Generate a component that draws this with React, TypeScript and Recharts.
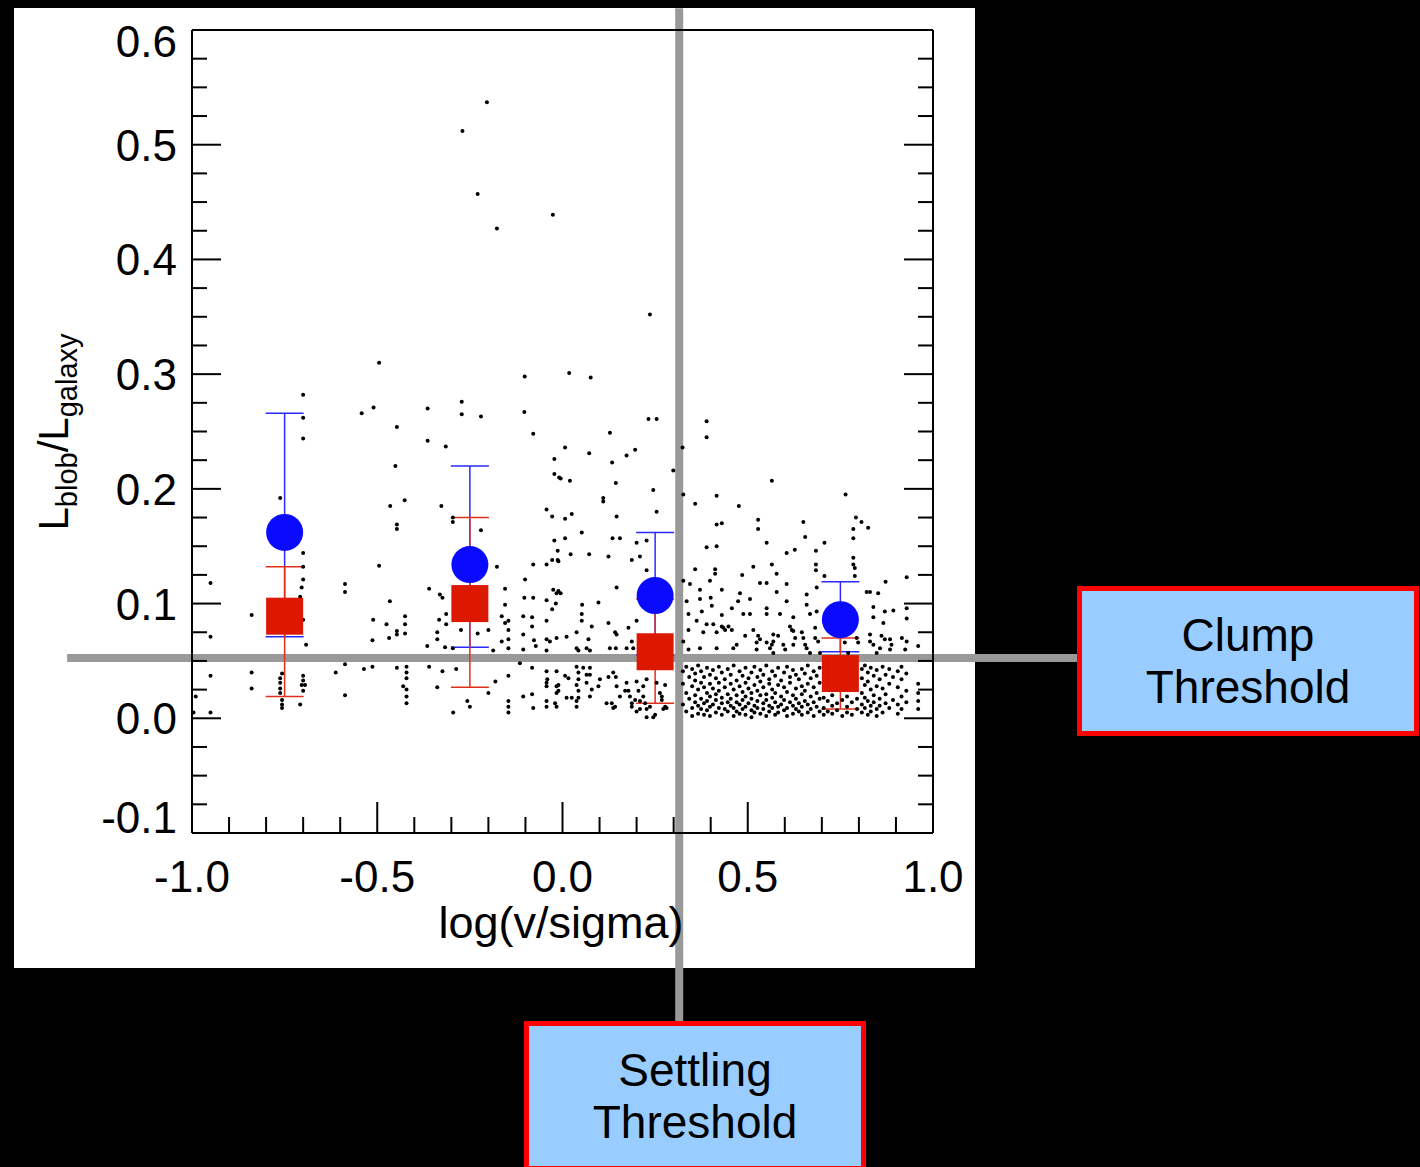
import React from 'react'
import { ScatterChart, Scatter, XAxis, YAxis, ErrorBar, ReferenceLine } from 'recharts'

// axis ticks (IDL style: minor every 0.1 on x, every 0.025 on y)
const xMajor = [-1.0, -0.5, 0.0, 0.5, 1.0]
const xMajorLabels = ['-1.0', '-0.5', '0.0', '0.5', '1.0']
const xMinor = [-0.9, -0.8, -0.7, -0.6, -0.4, -0.3, -0.2, -0.1, 0.1, 0.2, 0.3, 0.4, 0.6, 0.7, 0.8, 0.9]
const yMajor = [-0.1, 0.0, 0.1, 0.2, 0.3, 0.4, 0.5, 0.6]
const yMajorLabels = ['-0.1', '0.0', '0.1', '0.2', '0.3', '0.4', '0.5', '0.6']
const yMinor = [
  -0.075, -0.05, -0.025, 0.025, 0.05, 0.075, 0.125, 0.15, 0.175, 0.225, 0.25, 0.275,
  0.325, 0.35, 0.375, 0.425, 0.45, 0.475, 0.525, 0.55, 0.575,
]

// binned means
const binX = [-0.75, -0.25, 0.25, 0.75]
const blobMean = [0.162, 0.134, 0.107, 0.086]
const blobHi = [0.266, 0.22, 0.162, 0.119]
const blobLo = [0.071, 0.062, 0.055, 0.058]
const clumpMean = [0.089, 0.1, 0.058, 0.039]
const clumpHi = [0.132, 0.175, 0.104, 0.07]
const clumpLo = [0.019, 0.027, 0.013, 0.008]

// thresholds (annotation lines)
const clumpThreshold = 0.0525
const settlingThreshold = 0.315

// individual galaxies
const dotsUpper: [number, number][] = [
  [-0.204, 0.537], [-0.27, 0.512], [-0.229, 0.457], [-0.026, 0.439], [-0.177, 0.427], [-0.495, 0.31],
  [-0.102, 0.298], [-0.7, 0.282], [0.236, 0.352], [0.018, 0.301], [0.076, 0.297],
  [-0.51, 0.271], [-0.542, 0.266], [-0.364, 0.27], [-0.7, 0.262], [-0.447, 0.254], [-0.7, 0.244],
  [-0.364, 0.242], [-0.451, 0.22], [-0.272, 0.276], [-0.272, 0.265], [-0.22, 0.263], [-0.103, 0.267],
  [-0.079, 0.248], [-0.315, 0.237], [-0.022, 0.226], [-0.022, 0.213], [-0.009, 0.21],
  [0.232, 0.261], [0.254, 0.261], [0.128, 0.249], [0.007, 0.236], [0.072, 0.231], [0.196, 0.234],
  [0.173, 0.229], [0.134, 0.223], [0.299, 0.216], [-0.005, 0.209], [0.02, 0.207], [0.144, 0.205],
  [0.389, 0.259], [0.389, 0.245], [0.324, 0.236], [0.565, 0.207],
]

const dotsMiddle: [number, number][] = [
  [-0.762, 0.192], [-0.426, 0.19], [-0.465, 0.185], [-0.327, 0.185], [-0.447, 0.169], [-0.447, 0.165],
  [-0.296, 0.175], [-0.296, 0.171], [-0.22, 0.164], [-0.043, 0.182], [-0.028, 0.176], [-0.022, 0.155],
  [-0.013, 0.146], [-0.028, 0.138], [-0.013, 0.138], [-0.079, 0.134], [-0.043, 0.134], [-0.177, 0.132],
  [-0.7, 0.144], [-0.7, 0.132], [-0.7, 0.121], [-0.704, 0.114], [-0.708, 0.106], [-0.495, 0.133],
  [-0.95, 0.118], [-0.587, 0.117], [-0.587, 0.11], [-0.466, 0.102], [-0.36, 0.113], [-0.331, 0.108],
  [-0.324, 0.105], [-0.101, 0.121], [-0.103, 0.105], [-0.079, 0.105], [-0.155, 0.113], [-0.155, 0.099],
  [-0.043, 0.103], [-0.025, 0.112], [-0.016, 0.109], [-0.018, 0.1],
  [0.326, 0.195], [0.416, 0.194], [0.358, 0.187], [0.476, 0.185], [0.764, 0.195], [0.245, 0.199],
  [0.11, 0.192], [0.11, 0.189], [0.007, 0.174], [0.025, 0.178], [0.146, 0.176], [0.254, 0.18],
  [0.052, 0.162], [0.007, 0.157], [0.135, 0.157], [0.155, 0.157], [0.2, 0.153], [0.227, 0.155],
  [0.022, 0.143], [0.072, 0.143], [0.124, 0.141], [0.187, 0.138], [0.209, 0.141], [-0.011, 0.137],
  [0.227, 0.129], [-0.011, 0.111], [-0.005, 0.109], [0.146, 0.114], [0.097, 0.101], [0.053, 0.099],
  [0.528, 0.173], [0.528, 0.165], [0.416, 0.169], [0.43, 0.17], [0.65, 0.171], [0.792, 0.175],
  [0.807, 0.171], [0.825, 0.166], [0.785, 0.165], [0.785, 0.157], [0.389, 0.149], [0.416, 0.15],
  [0.551, 0.153], [0.605, 0.144], [0.627, 0.147], [0.655, 0.158], [0.707, 0.153], [0.684, 0.146],
  [0.785, 0.14], [0.785, 0.134], [0.358, 0.13], [0.412, 0.13], [0.412, 0.126], [0.515, 0.132],
  [0.565, 0.134], [0.578, 0.126], [0.485, 0.125], [0.684, 0.134], [0.684, 0.129], [0.707, 0.124],
  [0.789, 0.124], [0.789, 0.131], [0.872, 0.119], [0.929, 0.123], [0.326, 0.12], [0.344, 0.117],
  [0.371, 0.112], [0.398, 0.12], [0.43, 0.112], [0.479, 0.109], [0.506, 0.104], [0.533, 0.118],
  [0.551, 0.118], [0.578, 0.11], [0.605, 0.117], [0.605, 0.102], [0.659, 0.108], [0.686, 0.114],
  [0.821, 0.11], [0.83, 0.11], [0.852, 0.109], [0.371, 0.104], [0.4, 0.105],
]

const dotsLow: [number, number][] = [
  [-0.839, 0.09], [-0.95, 0.071], [-0.511, 0.086], [-0.475, 0.082], [-0.425, 0.089], [-0.425, 0.082],
  [-0.447, 0.076], [-0.447, 0.073], [-0.425, 0.074], [-0.513, 0.068], [-0.468, 0.07], [-0.365, 0.063],
  [-0.333, 0.086], [-0.314, 0.091], [-0.314, 0.082], [-0.338, 0.075], [-0.338, 0.069], [-0.317, 0.062],
  [-0.296, 0.061], [-0.274, 0.077], [-0.229, 0.074], [-0.2, 0.077], [-0.187, 0.059], [-0.164, 0.067],
  [-0.164, 0.089], [-0.146, 0.085], [-0.146, 0.077], [-0.146, 0.069], [-0.146, 0.061], [-0.106, 0.089],
  [-0.106, 0.073], [-0.082, 0.088], [-0.082, 0.08], [-0.077, 0.068], [-0.072, 0.063], [-0.043, 0.085],
  [-0.043, 0.069], [-0.016, 0.07], [-0.043, 0.059], [-0.692, 0.064], [-0.7, 0.086], [-0.587, 0.047],
  [-0.028, 0.095], [-0.155, 0.083], [-0.034, 0.067], [-0.106, 0.06],
  [0.052, 0.091], [0.079, 0.08], [0.052, 0.085], [0.124, 0.083], [0.2, 0.085], [0.146, 0.073],
  [0.011, 0.071], [0.038, 0.061], [0.043, 0.059], [0.065, 0.061], [0.074, 0.059], [0.128, 0.061],
  [0.144, 0.061], [0.173, 0.061], [0.191, 0.061], [0.038, 0.075], [0.07, 0.069], [0.142, 0.075],
  [0.178, 0.079], [0.187, 0.067],
  [0.403, 0.098], [0.376, 0.093], [0.335, 0.102], [0.34, 0.091], [0.457, 0.096], [0.474, 0.102],
  [0.488, 0.091], [0.506, 0.091], [0.551, 0.096], [0.551, 0.091], [0.587, 0.091], [0.623, 0.088],
  [0.659, 0.099], [0.668, 0.091], [0.686, 0.093], [0.839, 0.097], [0.87, 0.093], [0.893, 0.094],
  [0.929, 0.096], [0.929, 0.087], [0.839, 0.088], [0.866, 0.083],
  [0.34, 0.077], [0.362, 0.085], [0.38, 0.075], [0.407, 0.082], [0.434, 0.079], [0.457, 0.077],
  [0.493, 0.072], [0.515, 0.077], [0.533, 0.069], [0.569, 0.073], [0.569, 0.067], [0.596, 0.064],
  [0.623, 0.076], [0.623, 0.064], [0.65, 0.07], [0.659, 0.061], [0.682, 0.079], [0.682, 0.07],
  [0.794, 0.07], [0.83, 0.073], [0.839, 0.064], [0.857, 0.061], [0.884, 0.069], [0.884, 0.06],
  [0.929, 0.067], [0.326, 0.067], [0.34, 0.06], [0.371, 0.061], [0.416, 0.061], [0.461, 0.061],
  [0.524, 0.06], [0.56, 0.061], [0.569, 0.057], [0.43, 0.09], [0.43, 0.08], [0.439, 0.077],
  [0.389, 0.082], [0.416, 0.075], [0.448, 0.08], [0.47, 0.064], [0.528, 0.072], [0.524, 0.066],
  [0.551, 0.066], [0.565, 0.064], [0.582, 0.072], [0.601, 0.06], [0.614, 0.08], [0.619, 0.077],
  [0.628, 0.07], [0.646, 0.075], [0.655, 0.064], [0.668, 0.057], [0.69, 0.067], [0.695, 0.057],
  [0.762, 0.066], [0.771, 0.057], [0.798, 0.066], [0.83, 0.067], [0.848, 0.057], [0.861, 0.072],
  [0.87, 0.069], [0.888, 0.064], [0.916, 0.07], [0.925, 0.06], [0.96, 0.063],
]

const dotsFloor: [number, number][] = [
  [-0.95, 0.037], [-0.839, 0.04], [-0.839, 0.026], [-0.99, 0.019], [-0.95, 0.005], [-0.996, 0.005],
  [-0.757, 0.039], [-0.762, 0.035], [-0.762, 0.031], [-0.762, 0.026], [-0.762, 0.022], [-0.757, 0.016],
  [-0.757, 0.012], [-0.757, 0.009], [-0.7, 0.037], [-0.7, 0.033], [-0.704, 0.029], [-0.695, 0.029],
  [-0.7, 0.024], [-0.708, 0.012], [-0.612, 0.04], [-0.587, 0.02], [-0.536, 0.043], [-0.513, 0.045],
  [-0.447, 0.044], [-0.421, 0.045], [-0.421, 0.04], [-0.421, 0.035], [-0.43, 0.028], [-0.421, 0.025],
  [-0.421, 0.019], [-0.421, 0.013], [-0.36, 0.045], [-0.324, 0.041], [-0.287, 0.043], [-0.338, 0.027],
  [-0.295, 0.005], [-0.257, 0.015], [-0.25, 0.01], [-0.2, 0.022], [-0.181, 0.032], [-0.146, 0.037],
  [-0.146, 0.015], [-0.146, 0.01], [-0.146, 0.005], [-0.082, 0.044], [-0.082, 0.021], [-0.043, 0.041],
  [-0.043, 0.028], [-0.043, 0.015], [-0.043, 0.01], [-0.016, 0.041], [-0.016, 0.028], [-0.016, 0.022],
  [-0.016, 0.01], [-0.079, 0.009], [-0.115, 0.048], [-0.106, 0.019], [-0.043, 0.031], [-0.011, 0.029],
  [-0.011, 0.024], [0.007, 0.037], [0.011, 0.018], [0.043, 0.04], [0.043, 0.034], [0.038, 0.029],
  [0.043, 0.024], [0.038, 0.01], [0.065, 0.038], [0.065, 0.031], [0.079, 0.025], [0.101, 0.034],
  [0.137, 0.04], [0.146, 0.028], [0.137, 0.009], [0.173, 0.031], [0.169, 0.024], [0.187, 0.01],
  [0.196, 0.016], [0.205, 0.024], [0.218, 0.028], [0.218, 0.019], [0.223, 0.013], [0.227, 0.001],
  [0.236, 0.01], [0.245, 0.001], [0.254, 0.031], [0.263, 0.022], [0.268, 0.016], [0.272, 0.008],
  [0.277, 0.029], [0.281, 0.009], [0.038, 0.045], [0.056, 0.044], [0.074, 0.044], [-0.041, 0.034],
  [0.016, 0.035], [0.074, 0.038], [0.097, 0.028], [0.124, 0.036], [0.144, 0.036], [0.178, 0.024],
  [0.2, 0.032], [0.227, 0.034], [0.025, 0.018], [0.043, 0.018], [0.074, 0.019], [0.119, 0.013],
  [0.133, 0.013], [0.155, 0.019], [0.182, 0.019], [0.209, 0.015], [0.268, 0.019], [0.277, 0.01],
  [-0.02, 0.013], [0.038, 0.015], [0.142, 0.01], [0.2, 0.006], [0.227, 0.008], [0.25, 0.003],
  [0.209, 0.008], [0.187, 0.013],
]

// the crowded band past the settling line: x column, then the y of each dot in it
const denseColumns: [number, number[]][] = [
  [0.325, [0.041, 0.03, 0.012]], [0.334, [0.045, 0.022, 0.006]], [0.342, [0.036, 0.017]],
  [0.35, [0.043, 0.028, 0.009, 0.002]], [0.358, [0.039, 0.033, 0.02, 0.014]],
  [0.366, [0.046, 0.025, 0.011, 0.004]], [0.374, [0.041, 0.031, 0.017, 0.008]],
  [0.382, [0.036, 0.027, 0.013, 0.003]], [0.39, [0.044, 0.022, 0.015, 0.007]],
  [0.398, [0.038, 0.03, 0.019, 0.01, 0.002]], [0.406, [0.042, 0.026, 0.012]],
  [0.414, [0.035, 0.021, 0.016, 0.005]], [0.422, [0.045, 0.031, 0.024, 0.009]],
  [0.43, [0.04, 0.018, 0.013, 0.003]], [0.438, [0.034, 0.027, 0.008]],
  [0.446, [0.043, 0.021, 0.014, 0.006]], [0.454, [0.038, 0.03, 0.017, 0.011]],
  [0.462, [0.046, 0.025, 0.009, 0.002]], [0.47, [0.033, 0.02, 0.014, 0.006]],
  [0.478, [0.041, 0.028, 0.012, 0.004]], [0.486, [0.037, 0.023, 0.016, 0.008]],
  [0.494, [0.044, 0.031, 0.019, 0.01, 0.003]], [0.502, [0.035, 0.026, 0.013]],
  [0.51, [0.04, 0.022, 0.017, 0.007, 0.001]], [0.518, [0.045, 0.029, 0.011, 0.005]],
  [0.526, [0.036, 0.024, 0.015, 0.009]], [0.534, [0.042, 0.032, 0.02, 0.004]],
  [0.542, [0.038, 0.027, 0.013, 0.008]], [0.55, [0.046, 0.021, 0.016, 0.002]],
  [0.558, [0.034, 0.03, 0.011, 0.006]], [0.566, [0.041, 0.025, 0.018, 0.009]],
  [0.574, [0.037, 0.022, 0.014, 0.003]], [0.582, [0.044, 0.029, 0.01, 0.005]],
  [0.59, [0.033, 0.019, 0.012]], [0.598, [0.04, 0.027, 0.016, 0.007]],
  [0.606, [0.045, 0.023, 0.009, 0.002]], [0.614, [0.036, 0.031, 0.014]],
  [0.622, [0.042, 0.02, 0.011, 0.004]], [0.63, [0.038, 0.026, 0.017, 0.008]],
  [0.638, [0.034, 0.013, 0.006]], [0.646, [0.043, 0.028, 0.021, 0.01, 0.003]],
  [0.654, [0.039, 0.024, 0.015]], [0.662, [0.046, 0.03, 0.012, 0.005]],
  [0.67, [0.035, 0.019, 0.008]], [0.678, [0.041, 0.027, 0.014, 0.002]],
  [0.686, [0.037, 0.022, 0.01]], [0.694, [0.044, 0.031, 0.017, 0.006]],
  [0.705, [0.018, 0.009, 0.003]], [0.716, [0.015, 0.006]], [0.728, [0.02, 0.011, 0.004]],
  [0.741, [0.013, 0.007]], [0.755, [0.016, 0.002]], [0.768, [0.019, 0.01, 0.005]],
  [0.781, [0.014, 0.003]], [0.795, [0.017, 0.008]],
  [0.808, [0.043, 0.035, 0.022, 0.012, 0.005]], [0.816, [0.046, 0.029, 0.018, 0.009]],
  [0.824, [0.04, 0.032, 0.015, 0.003]], [0.832, [0.044, 0.025, 0.011, 0.006]],
  [0.84, [0.037, 0.02, 0.014]], [0.848, [0.042, 0.028, 0.008, 0.002]],
  [0.856, [0.034, 0.017, 0.011]], [0.864, [0.045, 0.026, 0.005]], [0.872, [0.038, 0.021, 0.013]],
  [0.882, [0.043, 0.03, 0.009]], [0.892, [0.036, 0.016]], [0.905, [0.041, 0.027, 0.012, 0.004]],
  [0.915, [0.045, 0.034, 0.019, 0.008]], [0.928, [0.039, 0.024, 0.014]],
  [0.96, [0.03, 0.022, 0.015, 0.008]],
]

const FONT = '"Liberation Sans", Arial, Helvetica, sans-serif'

const scatterData = [
  ...dotsUpper, ...dotsMiddle, ...dotsLow, ...dotsFloor,
  ...denseColumns.flatMap(([x, ys]) => ys.map((y) => [x, y] as [number, number])),
].map(([x, y]) => ({ x, y }))

const blobData = binX.map((x, i) => ({ x, y: blobMean[i], err: [blobMean[i] - blobLo[i], blobHi[i] - blobMean[i]] }))
const clumpData = binX.map((x, i) => ({ x, y: clumpMean[i], err: [clumpMean[i] - clumpLo[i], clumpHi[i] - clumpMean[i]] }))

const xTicks = [...xMajor, ...xMinor].sort((a, b) => a - b)
const yTicks = [...yMajor, ...yMinor].sort((a, b) => a - b)
const majorIndex = (list: number[], v: number) => list.findIndex((m) => Math.abs(m - v) < 1e-6)

function BottomTick(props: any) {
  const { x, y, payload } = props
  const i = majorIndex(xMajor, payload.value)
  return (
    <g>
      <line x1={x} y1={y} x2={x} y2={y - (i >= 0 ? 31 : 16)} stroke="#000" strokeWidth={2} />
      {i >= 0 && (
        <text x={x} y={y + 59} textAnchor="middle" fontSize={44} fontFamily={FONT} fill="#000">
          {xMajorLabels[i]}
        </text>
      )}
    </g>
  )
}

function TopTick(props: any) {
  const { x, y, payload } = props
  const big = majorIndex(xMajor, payload.value) >= 0
  return <line x1={x} y1={y} x2={x} y2={y + (big ? 31 : 16)} stroke="#000" strokeWidth={2} />
}

function LeftTick(props: any) {
  const { x, y, payload } = props
  const i = majorIndex(yMajor, payload.value)
  // IDL nudges the end labels inside the frame
  const shift = i === yMajor.length - 1 ? 27 : i === 0 ? 0 : 16
  return (
    <g>
      <line x1={x} y1={y} x2={x + (i >= 0 ? 29 : 15)} y2={y} stroke="#000" strokeWidth={2} />
      {i >= 0 && (
        <text x={x - 15} y={y + shift} textAnchor="end" fontSize={44} fontFamily={FONT} fill="#000">
          {yMajorLabels[i]}
        </text>
      )}
    </g>
  )
}

function RightTick(props: any) {
  const { x, y, payload } = props
  const big = majorIndex(yMajor, payload.value) >= 0
  return <line x1={x} y1={y} x2={x - (big ? 29 : 15)} y2={y} stroke="#000" strokeWidth={2} />
}

const boxStyle: React.CSSProperties = {
  position: 'absolute',
  boxSizing: 'border-box',
  width: 342,
  height: 150,
  background: '#99ccff',
  border: '5px solid #ff0000',
  display: 'flex',
  flexDirection: 'column',
  alignItems: 'center',
  justifyContent: 'center',
  fontFamily: FONT,
  fontSize: 46,
  lineHeight: '52px',
  color: '#000',
}

export default function App() {
  const frame = { stroke: '#000', strokeWidth: 2 }
  return (
    <div style={{ position: 'absolute', left: 0, top: 0, width: 1420, height: 1167, background: '#000', overflow: 'hidden' }}>
      <div style={{ position: 'absolute', left: 14, top: 8, width: 961, height: 960, background: '#fff' }} />
      <div style={{ position: 'absolute', left: 0, top: 0 }}>
        <ScatterChart width={1420} height={1167} margin={{ top: 10, right: 467, bottom: 234, left: 92 }}>
          <XAxis
            type="number" dataKey="x" domain={[-1, 1]} ticks={xTicks} interval={0} allowDataOverflow
            height={100} tickSize={0} tickMargin={0} tickLine={false} axisLine={frame} tick={BottomTick}
            label={{
              content: () => (
                <text x={561} y={938} textAnchor="middle" fontSize={45} fontFamily={FONT} fill="#000">
                  log(v/sigma)
                </text>
              ),
            }}
          />
          <XAxis
            xAxisId="top" orientation="top" type="number" domain={[-1, 1]} ticks={xTicks} interval={0}
            allowDataOverflow height={20} tickSize={0} tickMargin={0} tickLine={false} axisLine={frame} tick={TopTick}
          />
          <YAxis
            type="number" dataKey="y" domain={[-0.1, 0.6]} ticks={yTicks} interval={0} allowDataOverflow
            width={100} tickSize={0} tickMargin={0} tickLine={false} axisLine={frame} tick={LeftTick}
            label={{
              content: () => (
                <text transform="translate(68,432) rotate(-90)" textAnchor="middle" fontSize={42} fontFamily={FONT} fill="#000">
                  L<tspan fontSize={29} dy={9}>blob</tspan>
                  <tspan dy={-9}>/L</tspan>
                  <tspan fontSize={29} dy={9}>galaxy</tspan>
                </text>
              ),
            }}
          />
          <YAxis
            yAxisId="right" orientation="right" type="number" domain={[-0.1, 0.6]} ticks={yTicks} interval={0}
            allowDataOverflow width={20} tickSize={0} tickMargin={0} tickLine={false} axisLine={frame} tick={RightTick}
          />

          <Scatter
            data={scatterData}
            isAnimationActive={false}
            shape={(p: any) => <circle cx={p.cx} cy={p.cy} r={2} fill="#000" />}
          />

          <ReferenceLine
            segment={[{ x: settlingThreshold, y: 0.619 }, { x: settlingThreshold, y: -0.264 }]}
            stroke="#999999" strokeWidth={8} ifOverflow="visible"
          />
          <ReferenceLine
            segment={[{ x: -1.337, y: clumpThreshold }, { x: 1.389, y: clumpThreshold }]}
            stroke="#999999" strokeWidth={8} ifOverflow="visible"
          />

          <Scatter
            data={blobData}
            isAnimationActive={false}
            shape={(p: any) => <circle cx={p.cx} cy={p.cy} r={18.5} fill="#0a0aff" />}
          >
            <ErrorBar dataKey="err" direction="y" width={19} stroke="#2a2aff" strokeWidth={1.5} />
          </Scatter>
          <Scatter
            data={clumpData}
            isAnimationActive={false}
            shape={(p: any) => <rect x={p.cx - 18.5} y={p.cy - 18.5} width={37} height={37} fill="#dc1800" />}
          >
            <ErrorBar dataKey="err" direction="y" width={19} stroke="#e0301c" strokeWidth={1.5} />
          </Scatter>
        </ScatterChart>
      </div>
      <div style={{ ...boxStyle, left: 1077, top: 586 }}>
        <div>Clump</div>
        <div>Threshold</div>
      </div>
      <div style={{ ...boxStyle, left: 524, top: 1021 }}>
        <div>Settling</div>
        <div>Threshold</div>
      </div>
    </div>
  )
}
